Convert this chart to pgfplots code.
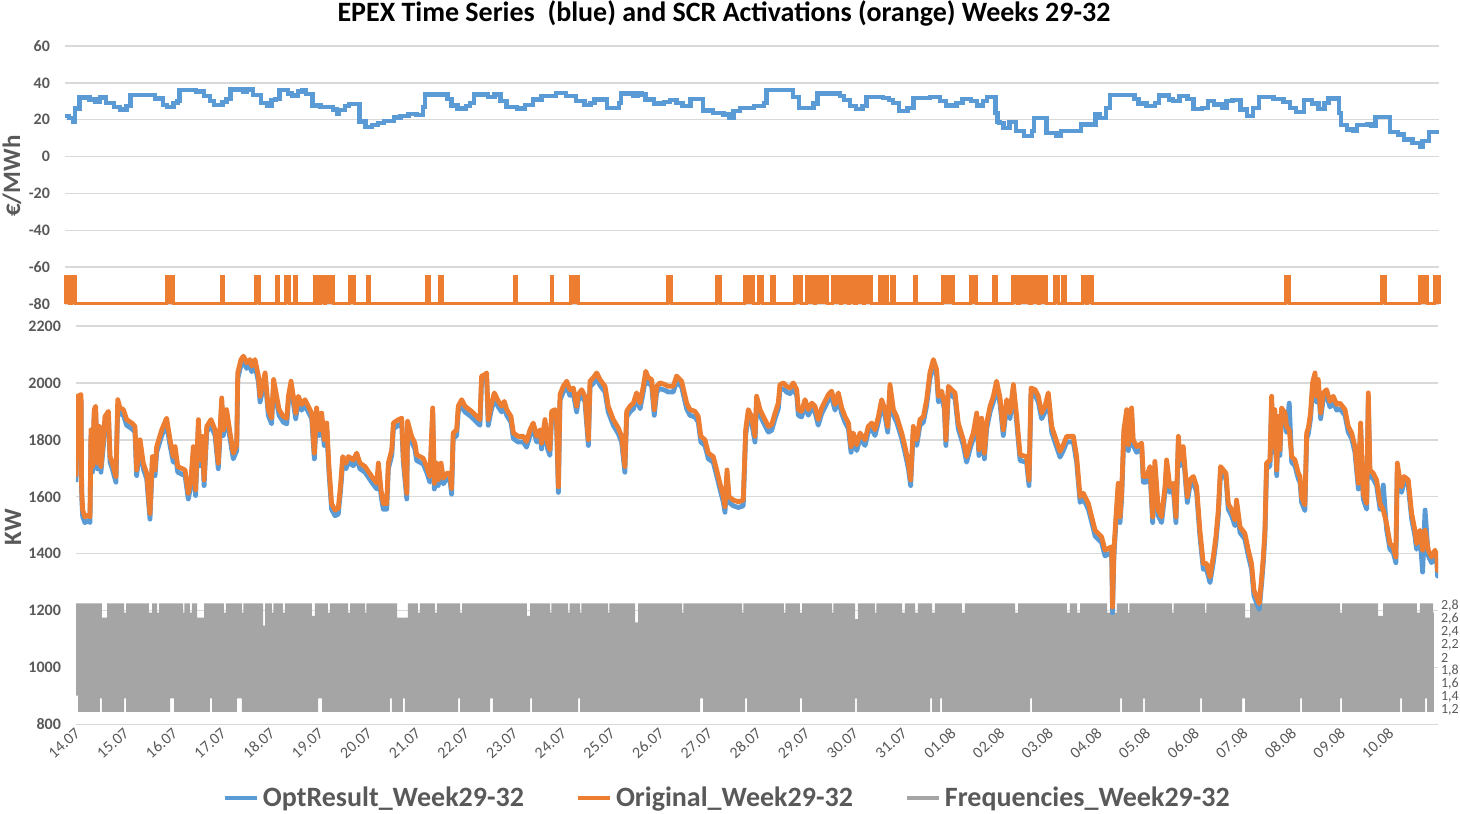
\documentclass[border=0pt]{standalone}
\usepackage{pgfplots}
\pgfplotsset{compat=1.18}
\usepackage{pgfplotstable}
\usepackage{fontspec}
\setmainfont{Carlito}

\definecolor{cblue}{HTML}{5B9BD5}
\definecolor{corange}{HTML}{ED7D31}
\definecolor{cgrey}{HTML}{A5A5A5}
\definecolor{cgrid}{HTML}{D9D9D9}
\definecolor{ctext}{HTML}{595959}

% load of week 29-32, hour of the period, kW
\pgfplotstableread{
h opt orig
0.0 1651 1671
0.8 1933 1953
2.5 1939 1959
2.8 1600 1624
3.3 1530 1553
4.4 1509 1529
6.1 1515 1535
6.9 1509 1529
7.4 1815 1835
8.1 1686 1706
9.0 1886 1906
9.7 1898 1918
10.5 1698 1718
11.5 1827 1847
12.3 1686 1706
13.5 1780 1800
14.3 1862 1882
16.0 1880 1900
16.8 1721 1741
17.9 1698 1718
19.7 1651 1671
20.6 1921 1941
21.7 1892 1912
23.4 1886 1906
25.0 1851 1871
27.5 1839 1859
29.1 1827 1847
29.9 1674 1694
31.6 1780 1800
33.2 1698 1718
34.9 1662 1682
36.5 1521 1541
37.7 1721 1741
39.0 1674 1694
39.8 1756 1776
42.3 1815 1835
44.7 1856 1876
46.4 1780 1800
48.0 1721 1741
48.9 1756 1776
50.2 1686 1706
53.8 1674 1694
55.4 1592 1612
56.7 1639 1659
57.9 1756 1776
59.0 1604 1624
60.4 1851 1871
61.2 1709 1729
62.3 1792 1812
63.2 1639 1659
64.5 1827 1847
66.6 1851 1871
68.6 1815 1835
70.2 1698 1718
71.9 1927 1947
72.7 1815 1835
74.3 1886 1906
76.0 1804 1824
77.6 1733 1753
79.3 1762 1782
79.8 2015 2035
81.4 2062 2082
82.6 2074 2094
84.2 2051 2071
85.8 2062 2082
86.7 2039 2059
88.3 2062 2082
90.0 2004 2024
90.8 1933 1953
93.3 2015 2035
94.9 1886 1906
96.5 1856 1876
97.5 1992 2012
99.0 1933 1953
100.2 1886 1906
102.3 1862 1882
104.0 1856 1876
104.8 1933 1953
106.1 1986 2006
107.2 1933 1953
108.4 1874 1894
109.7 1933 1953
111.3 1904 1924
113.0 1921 1941
114.6 1898 1918
116.3 1874 1894
117.6 1733 1753
118.7 1892 1912
120.1 1815 1835
121.2 1874 1894
122.5 1780 1800
123.7 1839 1859
124.8 1686 1706
126.1 1556 1576
127.8 1533 1553
129.4 1539 1559
130.6 1627 1647
131.6 1721 1741
133.2 1698 1718
134.4 1721 1741
136.8 1709 1729
138.5 1733 1753
140.1 1698 1718
142.6 1686 1706
145.9 1651 1671
148.4 1627 1647
149.2 1698 1718
150.5 1604 1624
151.6 1556 1576
153.3 1556 1576
154.1 1698 1718
155.8 1745 1765
156.6 1839 1859
159.1 1851 1871
160.7 1856 1876
161.5 1721 1741
163.2 1592 1612
163.6 1845 1865
165.6 1792 1812
167.2 1768 1788
168.1 1727 1747
171.3 1715 1735
173.0 1686 1706
174.6 1651 1671
176.0 1892 1912
176.8 1627 1647
177.9 1698 1718
178.7 1639 1659
180.1 1698 1718
181.2 1645 1665
182.9 1662 1682
184.5 1662 1682
185.3 1609 1629
186.1 1804 1824
187.8 1815 1835
188.6 1898 1918
190.3 1921 1941
191.9 1898 1918
195.2 1880 1900
197.7 1862 1882
199.3 1851 1871
200.1 2004 2024
201.8 2009 2029
202.6 2015 2035
203.4 1851 1871
204.7 1898 1918
206.4 1945 1965
208.4 1915 1935
210.0 1898 1918
211.3 1915 1935
212.5 1886 1906
214.6 1862 1882
215.8 1804 1824
218.2 1792 1812
220.7 1792 1812
222.3 1774 1794
224.0 1815 1835
225.6 1839 1859
227.3 1792 1812
228.9 1815 1835
229.7 1768 1788
231.4 1851 1871
232.7 1768 1788
233.8 1745 1765
234.7 1880 1900
236.3 1886 1906
237.1 1856 1876
238.0 1615 1635
238.8 1939 1959
240.4 1968 1988
242.1 1986 2006
243.7 1956 1976
245.4 1962 1982
247.0 1898 1918
247.8 1939 1959
249.5 1956 1976
251.1 1933 1953
252.8 1780 1800
253.6 1986 2006
255.2 1998 2018
256.9 2015 2035
258.5 1992 2012
261.0 1968 1988
262.6 1898 1918
265.1 1851 1871
267.6 1821 1841
269.2 1792 1812
270.8 1686 1706
271.7 1880 1900
273.3 1898 1918
275.0 1909 1929
276.6 1945 1965
278.3 1909 1929
279.9 1968 1988
281.1 2021 2041
282.4 1998 2018
284.0 1992 2012
285.3 1886 1906
286.5 1968 1988
288.1 1980 2000
290.6 1974 1994
292.2 1968 1988
294.7 1968 1988
296.3 2004 2024
298.8 1986 2006
301.3 1909 1929
302.9 1886 1906
305.4 1880 1900
307.0 1862 1882
308.3 1792 1812
310.3 1780 1800
312.0 1733 1753
314.4 1721 1741
316.1 1674 1694
317.7 1627 1647
319.4 1580 1600
320.2 1545 1565
321.2 1674 1694
322.2 1580 1600
324.3 1568 1588
326.8 1562 1582
329.2 1568 1588
330.4 1815 1835
331.7 1886 1906
333.3 1862 1882
335.0 1792 1812
335.8 1933 1953
337.5 1886 1906
339.1 1862 1882
341.6 1827 1847
343.2 1833 1853
344.9 1874 1894
346.5 1909 1929
347.3 1974 1994
349.0 1980 2000
350.6 1968 1988
352.3 1962 1982
353.9 1980 2000
355.6 1956 1976
356.4 1886 1906
358.0 1880 1900
359.7 1921 1941
361.3 1886 1906
363.0 1909 1929
364.6 1898 1918
366.2 1851 1871
367.9 1892 1912
369.5 1915 1935
371.2 1939 1959
372.8 1951 1971
374.5 1904 1924
376.1 1945 1965
377.8 1892 1912
379.4 1862 1882
381.1 1839 1859
382.4 1756 1776
383.5 1804 1824
385.2 1762 1782
386.8 1804 1824
389.3 1780 1800
390.9 1827 1847
392.6 1839 1859
394.2 1815 1835
395.9 1862 1882
397.5 1921 1941
399.1 1886 1906
400.5 1827 1847
401.6 1974 1994
403.3 1886 1906
404.9 1862 1882
407.4 1804 1824
409.0 1756 1776
410.7 1698 1718
411.8 1639 1659
413.1 1827 1847
414.8 1780 1800
416.4 1851 1871
418.1 1862 1882
419.7 1921 1941
421.3 2015 2035
423.0 2062 2082
424.6 2027 2047
425.5 1933 1953
427.1 1951 1971
428.4 1909 1929
429.2 1780 1800
430.4 1968 1988
432.0 1956 1976
433.7 1945 1965
435.3 1839 1859
437.8 1780 1800
439.4 1721 1741
441.1 1768 1788
442.7 1804 1824
444.4 1874 1894
445.5 1745 1765
446.8 1856 1876
448.2 1733 1753
449.3 1839 1859
451.0 1898 1918
452.6 1933 1953
454.2 1986 2006
455.9 1927 1947
457.5 1815 1835
459.2 1921 1941
460.8 1874 1894
462.5 1974 1994
464.1 1862 1882
465.8 1727 1747
469.0 1721 1741
470.2 1639 1659
471.2 1962 1982
473.2 1956 1976
474.8 1933 1953
476.4 1874 1894
478.1 1898 1918
479.7 1945 1965
481.4 1827 1847
483.0 1792 1812
485.5 1739 1759
487.1 1762 1782
488.8 1792 1812
492.1 1792 1812
493.7 1721 1741
495.4 1580 1600
497.0 1592 1612
499.5 1556 1576
502.8 1462 1482
506.0 1439 1459
507.7 1392 1412
509.3 1398 1418
511.0 1404 1424
511.4 1192 1212
512.1 1392 1412
513.1 1509 1529
514.2 1627 1647
515.1 1509 1529
515.9 1592 1612
517.0 1815 1835
518.4 1886 1906
519.2 1762 1782
520.8 1892 1912
521.6 1780 1800
523.3 1756 1776
525.8 1768 1788
526.6 1651 1671
528.2 1651 1671
529.9 1686 1706
531.2 1509 1529
532.3 1704 1724
534.0 1533 1553
535.6 1509 1529
537.3 1615 1635
538.1 1709 1729
539.7 1615 1635
541.4 1627 1647
542.7 1509 1529
543.9 1792 1812
544.7 1709 1729
546.3 1756 1776
547.6 1639 1659
548.3 1580 1600
549.6 1639 1659
551.3 1651 1671
552.9 1615 1635
554.5 1462 1482
556.2 1345 1365
557.8 1345 1365
559.5 1298 1318
561.1 1368 1388
562.4 1439 1459
563.6 1533 1553
564.7 1686 1706
566.1 1674 1694
567.4 1662 1682
568.5 1556 1576
570.2 1533 1553
571.8 1498 1518
572.6 1568 1588
574.3 1474 1494
576.7 1451 1471
578.4 1392 1412
580.0 1345 1365
581.2 1251 1271
582.5 1227 1247
583.8 1204 1224
585.0 1298 1318
585.8 1368 1388
586.6 1462 1482
587.4 1698 1718
589.1 1709 1729
589.9 1933 1953
590.7 1756 1776
591.5 1886 1906
592.4 1674 1694
593.2 1862 1882
594.0 1745 1765
594.8 1892 1912
596.5 1874 1894
597.3 1827 1847
598.6 1929 1835
599.8 1721 1741
601.4 1709 1729
603.1 1662 1682
603.9 1651 1671
604.7 1580 1600
606.3 1551 1571
607.2 1804 1824
608.0 1821 1841
609.1 1874 1894
610.1 1980 2000
611.3 2015 2035
612.1 1933 1953
612.9 1992 2012
614.1 1874 1894
615.4 1945 1965
617.0 1956 1976
618.7 1915 1935
620.3 1933 1953
622.0 1904 1924
623.6 1909 1929
626.1 1886 1906
627.7 1827 1847
629.4 1804 1824
631.0 1756 1776
632.7 1627 1647
633.8 1839 1859
635.1 1592 1612
636.8 1556 1576
637.6 1945 1965
638.4 1674 1694
640.1 1662 1682
641.7 1639 1659
643.4 1556 1576
645.0 1641 1553
646.6 1486 1506
648.3 1415 1435
649.9 1404 1424
651.2 1368 1388
651.9 1698 1718
652.9 1651 1671
654.0 1615 1635
655.2 1651 1671
657.3 1639 1659
659.0 1521 1541
660.6 1462 1482
661.4 1415 1435
663.1 1462 1482
664.4 1335 1412
665.6 1553 1482
667.2 1392 1412
668.8 1368 1388
670.5 1392 1412
671.4 1368 1388
671.8 1321 1341
672.0 1333 1353
}\loaddata

\begin{document}
\begin{tikzpicture}
\useasboundingbox (0,0) rectangle (730pt,406.5pt);

\node[font=\bfseries\fontsize{14}{16}\selectfont, text=black] at (362pt,400pt)
  {EPEX Time Series \ (blue) and SCR Activations (orange) Weeks 29-32};

\pgfplotsset{
  every axis/.append style={
    scale only axis,
    anchor=south west,
    axis line style={draw=none},
    major tick length=0pt,
    /pgf/number format/assume math mode=true,
    /pgf/number format/1000 sep={},
    scaled y ticks=false,
    grid style={cgrid, line width=0.75pt},
  },
}

% ---------- upper panel: EPEX price and SCR activations ----------
\begin{axis}[
  at={(32.5pt,254.5pt)}, width=687pt, height=129pt,
  xmin=0, xmax=672, ymin=-80, ymax=60,
  xtick=\empty,
  ytick={-80,-60,-40,-20,0,20,40,60},
  ymajorgrids,
  clip=false,
  yticklabel style={font=\bfseries\fontsize{8}{9}\selectfont, text=ctext, xshift=-4pt},
  ylabel={€/MWh},
  every axis y label/.style={at={(axis description cs:-0.0386,0.496)}, rotate=90, anchor=center,
    font=\bfseries\fontsize{12.5}{14}\selectfont, text=ctext},
]
\addplot[const plot, cblue, line width=2.2pt] coordinates {
(0,22) (2,21) (4,19) (5,26) (7,32) (12,31) (15,29.5) (17,32) (20,29) (24,27)
(27,25.5) (30,27.5) (32,33.3) (44,31.5) (48,28) (50,27) (53,29) (55,30) (56,36) (64,35.3)
(68,33) (71,30) (73,28) (77,29.5) (79,31.3) (81,36.4) (87,35) (89,36.4) (92,33.3) (96,29)
(99,27.7) (101,30.6) (103,31.3) (105,36) (109,34.3) (111,33.2) (114,35.2) (116,36) (118,34) (121,27.7)
(125,26.8) (128,27) (131,25.5) (133,23.4) (134,25.2) (137,27.4) (139,28.6) (144,19) (147,16.1) (150,17)
(153,18.3) (156,19.2) (161,21.2) (164,22) (168,23) (172,22.5) (175,27) (176,33.7) (187,31.3) (189,27.7)
(192,26) (196,27.4) (198,29) (200,33.7) (207,32.3) (210,33.7) (213,30) (216,27) (221,26) (225,28)
(229,31) (233,33) (240,34.5) (245,33) (250,30) (254,28) (257,29) (259,31) (262,31) (265,26.5)
(271,29.2) (272,34.2) (278,32.8) (280,34.2) (282,33.7) (284,31) (288,28.8) (293,29.5) (296,30.6) (299,29.2)
(302,27.4) (306,31.3) (312,25) (317,23.7) (322,22.8) (325,21) (327,24.6) (330,26.5) (337,27.4) (342,29.2)
(343,36) (356,32.4) (359,26.3) (366,28.8) (368,34.2) (379,32.8) (381,30.6) (384,27.4) (387,25.9) (390,27.4)
(392,32.4) (400,31.7) (403,30.6) (405,29.2) (408,24.6) (412,26.5) (415,31.7) (423,32.3) (428,30) (431,27.7)
(436,29.2) (439,31.3) (443,30) (446,27.7) (449,30) (451,32.4) (455,23.7) (456,18.7) (457,18.3) (459,15.6)
(462,18.7) (465,13.8) (469,11) (473,13.8) (474,21) (480,12.8) (485,11) (487,13.8) (497,17.4) (504,22.8)
(506,21) (509,26.5) (511,33.3) (523,31.3) (525,28.8) (529,27.4) (533,29.2) (535,33.2) (540,31) (542,30)
(545,32.8) (549,31.3) (552,25.9) (556,26.5) (559,30) (562,28.3) (566,26.5) (568,30) (571,30.6) (575,25.5)
(578,21.9) (581,26.5) (584,32.3) (591,31.3) (596,29.5) (599,26.5) (602,24.1) (606,30.6) (610,28.8) (613,25.9)
(616,29.2) (618,31.5) (623,23.7) (624,17) (627,14.7) (630,13.8) (632,17) (637,17.4) (639,16.5) (641,21.4)
(648,13.2) (652,11.9) (655,9.2) (659,7.4) (663,5.2) (664,8.3) (667,13.2) (672,13.2)
};
\addplot[corange, fill=corange, line width=1.5pt] coordinates {
(0,-80) (0,-65) (2.4,-65) (2.4,-80) (3.4,-80) (3.4,-65) (4.9,-65) (4.9,-80)
(49.4,-80) (49.4,-65) (53.3,-65) (53.3,-80)
(76.3,-80) (76.3,-65) (77.3,-65) (77.3,-80)
(93.4,-80) (93.4,-65) (94.9,-65) (94.9,-80)
(103.2,-80) (103.2,-65) (104.6,-65) (104.6,-80)
(107.6,-80) (107.6,-65) (110,-65) (110,-80)
(112,-80) (112,-65) (113.4,-65) (113.4,-80)
(121.8,-80) (121.8,-65) (123.7,-65) (123.7,-80)
(125.2,-80) (125.2,-65) (126.7,-65) (126.7,-80)
(127.6,-80) (127.6,-65) (131.1,-65) (131.1,-80)
(138.9,-80) (138.9,-65) (141.8,-65) (141.8,-80)
(147.7,-80) (147.7,-65) (149.1,-65) (149.1,-80)
(177,-80) (177,-65) (178.5,-65) (178.5,-80)
(183.4,-80) (183.4,-65) (184.8,-65) (184.8,-80)
(219.6,-80) (219.6,-65) (221,-65) (221,-80)
(237.7,-80) (237.7,-65) (238.6,-65) (238.6,-80)
(247.4,-80) (247.4,-65) (250.9,-65) (250.9,-80)
(294.9,-80) (294.9,-65) (296.8,-65) (296.8,-80)
(318.8,-80) (318.8,-65) (320.8,-65) (320.8,-80)
(332.5,-80) (332.5,-65) (336.9,-65) (336.9,-80)
(339.4,-80) (339.4,-65) (341.3,-65) (341.3,-80)
(345.7,-80) (345.7,-65) (347.2,-65) (347.2,-80)
(357,-80) (357,-65) (360.4,-65) (360.4,-80)
(362.8,-80) (362.8,-65) (366.5,-65) (366.5,-80)
(367,-80) (367,-65) (373.1,-65) (373.1,-80)
(375.6,-80) (375.6,-65) (379.5,-65) (379.5,-80)
(380,-80) (380,-65) (383,-65) (383,-80)
(383.6,-80) (383.6,-65) (386.3,-65) (386.3,-80)
(387.3,-80) (387.3,-65) (390.5,-65) (390.5,-80)
(391,-80) (391,-65) (394.6,-65) (394.6,-80)
(398.5,-80) (398.5,-65) (400,-65) (400,-80)
(401.5,-80) (401.5,-65) (402.4,-65) (402.4,-80)
(404.4,-80) (404.4,-65) (405.9,-65) (405.9,-80)
(415.7,-80) (415.7,-65) (416.6,-65) (416.6,-80)
(429.3,-80) (429.3,-65) (434.7,-65) (434.7,-80)
(443,-80) (443,-65) (446,-65) (446,-80)
(454.3,-80) (454.3,-65) (455.7,-65) (455.7,-80)
(463.6,-80) (463.6,-65) (466,-65) (466,-80)
(467,-80) (467,-65) (471.9,-65) (471.9,-80)
(472.9,-80) (472.9,-65) (476,-65) (476,-80)
(476.5,-80) (476.5,-65) (480.2,-65) (480.2,-80)
(484.1,-80) (484.1,-65) (486.1,-65) (486.1,-80)
(488,-80) (488,-65) (489.5,-65) (489.5,-80)
(497.8,-80) (497.8,-65) (499.8,-65) (499.8,-80)
(500.2,-80) (500.2,-65) (502.7,-65) (502.7,-80)
(597.1,-80) (597.1,-65) (599,-65) (599,-80)
(644,-80) (644,-65) (646,-65) (646,-80)
(662.6,-80) (662.6,-65) (666.5,-65) (666.5,-80)
(669.9,-80) (669.9,-65) (672,-65) (672,-80)
};
\end{axis}

% ---------- lower panel: grid and kW ticks ----------
\begin{axis}[
  at={(38pt,44.35pt)}, width=681pt, height=199.15pt,
  xmin=0, xmax=672, ymin=800, ymax=2200,
  ytick={800,1000,...,2200},
  ymajorgrids,
  xtick={0,24,...,648},
  xticklabels={14.07,15.07,16.07,17.07,18.07,19.07,20.07,21.07,22.07,23.07,24.07,25.07,26.07,27.07,
    28.07,29.07,30.07,31.07,01.08,02.08,03.08,04.08,05.08,06.08,07.08,08.08,09.08,10.08},
  xticklabel style={font=\fontsize{8}{9}\selectfont, text=ctext, rotate=42, anchor=east,
    xshift=2pt, yshift=-3pt},
  yticklabel style={font=\bfseries\fontsize{8}{9}\selectfont, text=ctext, xshift=-4pt},
  ylabel={KW},
  every axis y label/.style={at={(axis description cs:-0.0463,0.495)}, rotate=90, anchor=center,
    font=\bfseries\fontsize{12.5}{14}\selectfont, text=ctext},
]
\end{axis}

% ---------- lower panel: frequencies on the right axis ----------
\begin{axis}[
  at={(38pt,44.35pt)}, width=681pt, height=199.15pt,
  xmin=0, xmax=672, ymin=0.98, ymax=7.11,
  axis y line*=right, hide x axis,
  ytick={1.2,1.4,1.6,1.8,2,2.2,2.4,2.6,2.8},
  yticklabel style={font=\fontsize{7}{8}\selectfont, text=ctext, xshift=-2pt,
    /pgf/number format/.cd, use comma, fixed, precision=1},
]
\addplot[fill=cgrey, draw=none] coordinates {
(0,2.84)
(12.8,2.84) (12.8,2.62) (15.3,2.62) (15.3,2.84)
(23.7,2.84) (23.7,2.7) (24.7,2.7) (24.7,2.84)
(36.0,2.84) (36.0,2.7) (37.5,2.7) (37.5,2.84)
(40.0,2.84) (40.0,2.7) (41.0,2.7) (41.0,2.84)
(52.8,2.84) (52.8,2.7) (53.5,2.7) (53.5,2.84)
(56.2,2.84) (56.2,2.7) (57.2,2.7) (57.2,2.84)
(59.7,2.84) (59.7,2.62) (63.2,2.62) (63.2,2.84)
(73.0,2.84) (73.0,2.7) (74.0,2.7) (74.0,2.84)
(81.9,2.84) (81.9,2.7) (82.6,2.7) (82.6,2.84)
(92.3,2.84) (92.3,2.5) (93.3,2.5) (93.3,2.84)
(96.7,2.84) (96.7,2.7) (97.4,2.7) (97.4,2.84)
(102.1,2.84) (102.1,2.7) (103.1,2.7) (103.1,2.84)
(116.4,2.84) (116.4,2.65) (117.9,2.65) (117.9,2.84)
(124.3,2.84) (124.3,2.7) (125.3,2.7) (125.3,2.84)
(134.2,2.84) (134.2,2.7) (135.2,2.7) (135.2,2.84)
(142.6,2.84) (142.6,2.7) (143.3,2.7) (143.3,2.84)
(158.4,2.84) (158.4,2.62) (163.8,2.62) (163.8,2.84)
(168.7,2.84) (168.7,2.7) (169.7,2.7) (169.7,2.84)
(177.1,2.84) (177.1,2.7) (178.1,2.7) (178.1,2.84)
(189.5,2.84) (189.5,2.7) (190.5,2.7) (190.5,2.84)
(222.5,2.84) (222.5,2.65) (224.0,2.65) (224.0,2.84)
(233.9,2.84) (233.9,2.7) (234.6,2.7) (234.6,2.84)
(242.8,2.84) (242.8,2.7) (243.5,2.7) (243.5,2.84)
(248.7,2.84) (248.7,2.7) (249.4,2.7) (249.4,2.84)
(262.5,2.84) (262.5,2.7) (263.2,2.7) (263.2,2.84)
(275.8,2.84) (275.8,2.55) (277.3,2.55) (277.3,2.84)
(299.0,2.84) (299.0,2.7) (299.7,2.7) (299.7,2.84)
(328.6,2.84) (328.6,2.7) (329.3,2.7) (329.3,2.84)
(349.3,2.84) (349.3,2.7) (350.0,2.7) (350.0,2.84)
(357.2,2.84) (357.2,2.7) (358.2,2.7) (358.2,2.84)
(373.0,2.84) (373.0,2.7) (373.7,2.7) (373.7,2.84)
(384.4,2.84) (384.4,2.6) (385.8,2.6) (385.8,2.84)
(394.2,2.84) (394.2,2.7) (394.9,2.7) (394.9,2.84)
(407.6,2.84) (407.6,2.7) (409.0,2.7) (409.0,2.84)
(414.0,2.84) (414.0,2.7) (415.4,2.7) (415.4,2.84)
(422.4,2.84) (422.4,2.7) (423.8,2.7) (423.8,2.84)
(437.1,2.84) (437.1,2.7) (438.6,2.7) (438.6,2.84)
(463.3,2.84) (463.3,2.7) (464.8,2.7) (464.8,2.84)
(488.9,2.84) (488.9,2.7) (490.4,2.7) (490.4,2.84)
(493.9,2.84) (493.9,2.7) (495.4,2.7) (495.4,2.84)
(508.7,2.84) (508.7,2.7) (510.2,2.7) (510.2,2.84)
(512.6,2.84) (512.6,2.7) (513.6,2.7) (513.6,2.84)
(519.0,2.84) (519.0,2.7) (519.7,2.7) (519.7,2.84)
(540.8,2.84) (540.8,2.7) (541.5,2.7) (541.5,2.84)
(557.0,2.84) (557.0,2.7) (557.7,2.7) (557.7,2.84)
(576.8,2.84) (576.8,2.62) (579.3,2.62) (579.3,2.84)
(623.7,2.84) (623.7,2.7) (624.7,2.7) (624.7,2.84)
(642.4,2.84) (642.4,2.65) (644.9,2.65) (644.9,2.84)
(661.6,2.84) (661.6,2.7) (663.1,2.7) (663.1,2.84)
(669.5,2.84) (669.5,2.7) (670.0,2.7) (670.0,2.84)
(670.0,1.17)
(666.6,1.17) (666.6,1.38) (665.6,1.38) (665.6,1.17)
(654.3,1.17) (654.3,1.38) (653.3,1.38) (653.3,1.17)
(624.7,1.17) (624.7,1.38) (623.7,1.38) (623.7,1.17)
(604.9,1.17) (604.9,1.38) (603.9,1.38) (603.9,1.17)
(576.8,1.17) (576.8,1.38) (575.3,1.38) (575.3,1.17)
(555.6,1.17) (555.6,1.38) (554.6,1.38) (554.6,1.17)
(527.4,1.17) (527.4,1.38) (526.5,1.38) (526.5,1.17)
(516.1,1.17) (516.1,1.38) (515.1,1.38) (515.1,1.17)
(471.7,1.17) (471.7,1.38) (470.7,1.38) (470.7,1.17)
(427.3,1.17) (427.3,1.38) (426.3,1.38) (426.3,1.17)
(422.4,1.17) (422.4,1.38) (421.4,1.38) (421.4,1.17)
(385.3,1.17) (385.3,1.38) (384.4,1.38) (384.4,1.17)
(358.2,1.17) (358.2,1.38) (357.2,1.38) (357.2,1.17)
(331.1,1.17) (331.1,1.38) (330.1,1.38) (330.1,1.17)
(309.4,1.17) (309.4,1.38) (307.9,1.38) (307.9,1.17)
(248.7,1.17) (248.7,1.38) (247.7,1.38) (247.7,1.17)
(225.0,1.17) (225.0,1.38) (224.0,1.38) (224.0,1.17)
(205.7,1.17) (205.7,1.38) (204.3,1.38) (204.3,1.17)
(189.5,1.17) (189.5,1.38) (188.5,1.38) (188.5,1.17)
(162.3,1.17) (162.3,1.38) (161.3,1.38) (161.3,1.17)
(155.9,1.17) (155.9,1.38) (154.9,1.38) (154.9,1.17)
(121.4,1.17) (121.4,1.38) (119.4,1.38) (119.4,1.17)
(81.9,1.17) (81.9,1.38) (79.4,1.38) (79.4,1.17)
(67.1,1.17) (67.1,1.38) (66.1,1.38) (66.1,1.17)
(48.4,1.17) (48.4,1.38) (46.4,1.38) (46.4,1.17)
(24.7,1.17) (24.7,1.38) (23.7,1.38) (23.7,1.17)
(12.8,1.17) (12.8,1.38) (11.8,1.38) (11.8,1.17)
(1.0,1.17) (1.0,1.42) (0,1.42)
};
\end{axis}

% ---------- lower panel: load series and legend ----------
\begin{axis}[
  at={(38pt,44.35pt)}, width=681pt, height=199.15pt,
  xmin=0, xmax=672, ymin=800, ymax=2200,
  hide axis,
  legend columns=3,
  legend style={at={(axis description cs:0.479,-0.185)}, anchor=center, draw=none, fill=none,
    font=\bfseries\fontsize{14}{16}\selectfont, text=ctext,
    /tikz/every even column/.append style={column sep=24pt}},
  legend image code/.code={\draw[#1, line width=2pt] (0pt,0pt) -- (16pt,0pt);},
]
\addplot[cblue, line width=2.4pt, line join=round] table[x=h, y=opt] {\loaddata};
\addlegendentry{OptResult\_Week29-32}
\addplot[corange, line width=2.4pt, line join=round] table[x=h, y=orig] {\loaddata};
\addlegendentry{Original\_Week29-32}
\addlegendimage{cgrey, line width=2pt}
\addlegendentry{Frequencies\_Week29-32}
\end{axis}
\end{tikzpicture}
\end{document}
